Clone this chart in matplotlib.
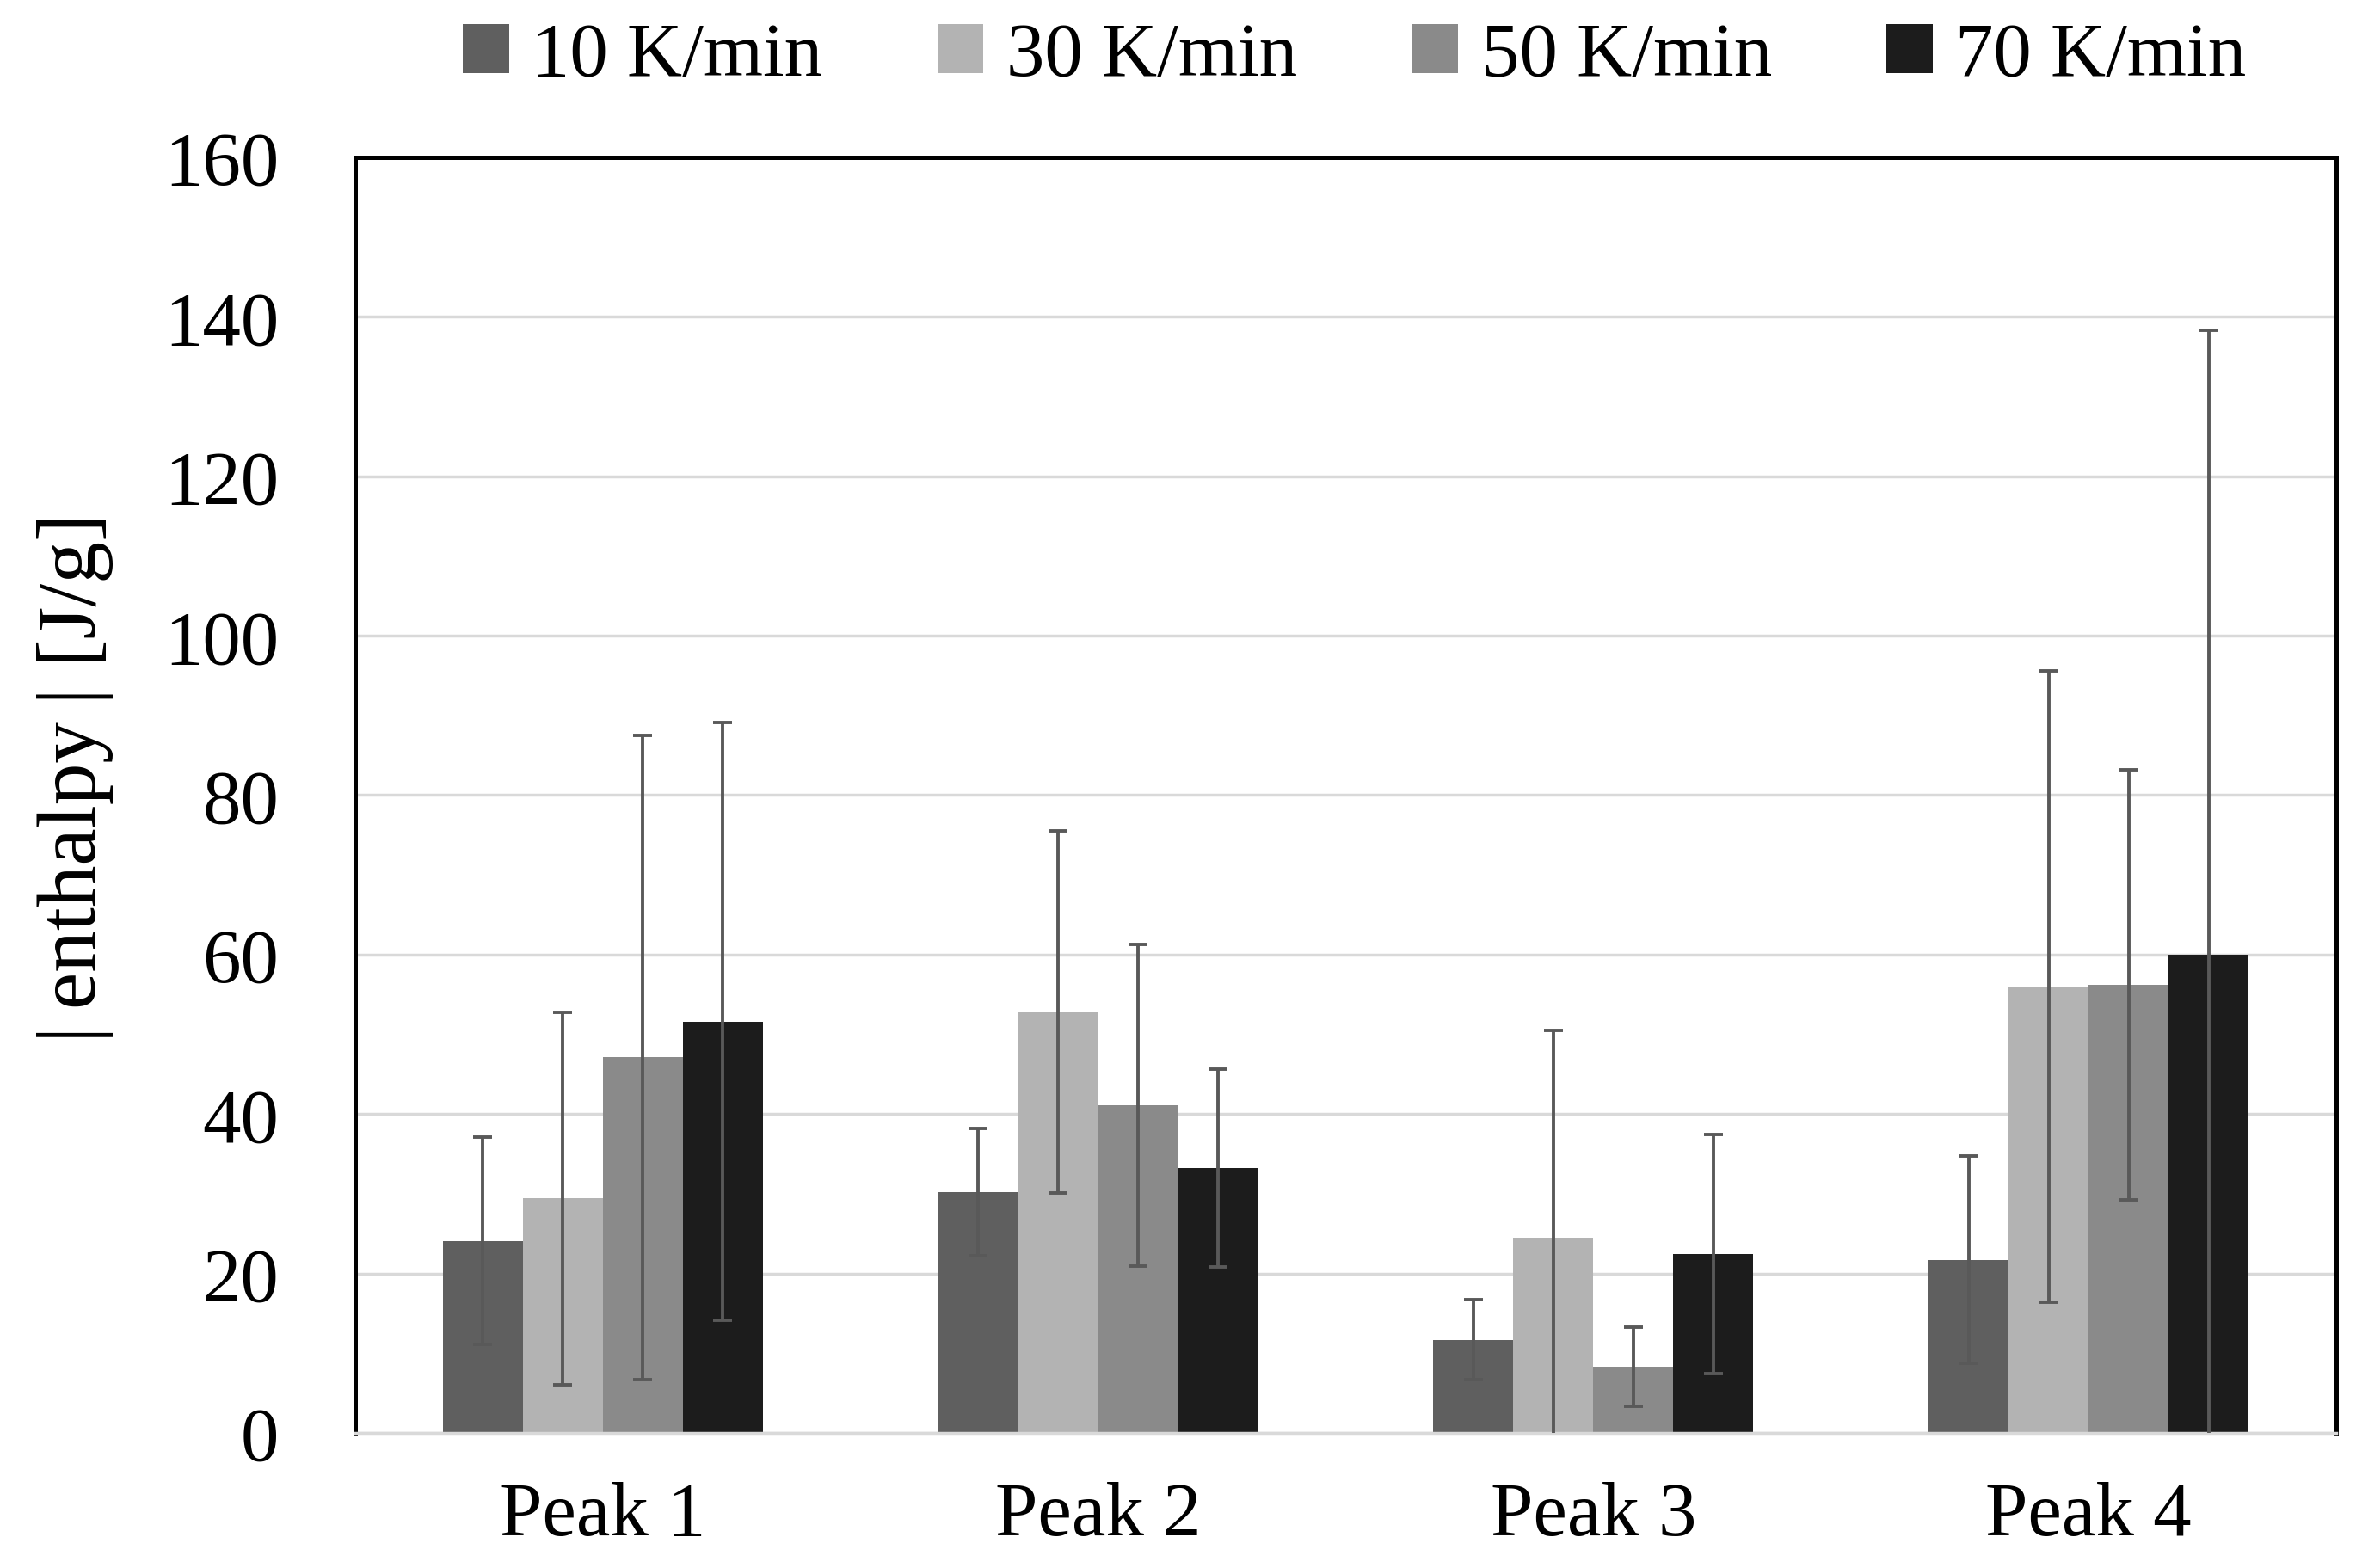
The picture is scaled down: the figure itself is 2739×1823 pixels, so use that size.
import numpy as np
import matplotlib
matplotlib.use('Agg')
from matplotlib import pyplot as plt

plt.rcParams['font.family'] = ['Liberation Serif', 'DejaVu Serif']

peaks = ['Peak 1', 'Peak 2', 'Peak 3', 'Peak 4']
rates = ['10 K/min', '30 K/min', '50 K/min', '70 K/min']

# mean |enthalpy| per heating rate, one value per peak
h_10 = [24.1, 30.2, 11.7, 21.7]
h_30 = [29.4, 52.8, 24.5, 56.0]
h_50 = [47.1, 41.1, 8.3, 56.2]
h_70 = [51.6, 33.2, 22.4, 60.0]

# standard deviations
sd_10 = [13.0, 8.0, 5.0, 13.0]
sd_30 = [23.4, 22.7, 26.0, 39.6]
sd_50 = [40.4, 20.2, 5.0, 27.0]
sd_70 = [37.5, 12.4, 15.0, 78.3]

colors = ['#5f5f5f', '#b3b3b3', '#8a8a8a', '#1c1c1c']
fs = 64

fig = plt.figure(figsize=(27.39, 18.24), dpi=100)
ax = fig.add_axes([0.1508, 0.0861, 0.8408, 0.8130])

x = np.arange(len(peaks))
w = 0.1616
series = [h_10, h_30, h_50, h_70]
errs = [sd_10, sd_30, sd_50, sd_70]
for i in range(4):
    pos = x + (i - 1.5) * w
    ax.bar(pos, series[i], width=w, color=colors[i], label=rates[i], zorder=2)
    ax.errorbar(pos, series[i], yerr=errs[i], fmt='none', ecolor='#595959',
                elinewidth=2.8, capsize=8, capthick=2.8, zorder=3)

ax.set_ylim(0, 160)
ax.set_xlim(-0.5, 3.5)
ax.set_yticks(range(0, 161, 20))
ax.set_xticks(x)
ax.set_xticklabels(peaks)
ax.tick_params(axis='both', length=0, labelsize=fs)
ax.tick_params(axis='y', pad=64)
ax.tick_params(axis='x', pad=40)
ax.yaxis.grid(True, color='#d9d9d9', linewidth=2.5, zorder=0)
ax.set_axisbelow(True)

for s in ['left', 'right', 'top']:
    ax.spines[s].set_color('black')
    ax.spines[s].set_linewidth(3.6)
ax.spines['bottom'].set_color('#d9d9d9')
ax.spines['bottom'].set_linewidth(2.5)

ax.set_ylabel('|\u2009enthalpy\u2009| [J/g]', fontsize=70)
ax.yaxis.set_label_coords(-0.122, 0.514)

fig.legend(loc='center', bbox_to_anchor=(0.575, 0.963), ncol=4, frameon=False,
           fontsize=fs, handlelength=0.6, handleheight=0.6, handletextpad=0.3,
           columnspacing=1.5)

fig.savefig('out.png', dpi=100)
